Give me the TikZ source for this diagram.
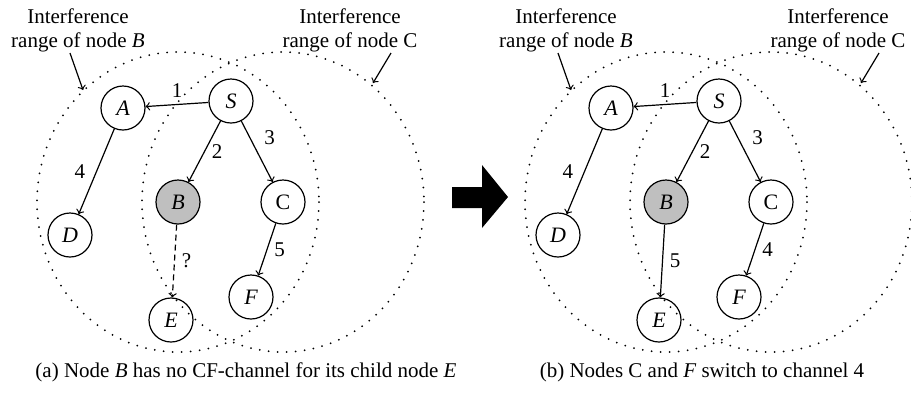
\documentclass[tikz,border=0pt]{standalone}
\usepackage{fontspec}
\setmainfont{Liberation Serif}

\begin{document}
\begin{tikzpicture}[x=0.5pt, y=-0.5pt, font=\fontsize{10.5}{12}\selectfont,
    vertex/.style={circle, draw, semithick, minimum size=22pt, inner sep=0pt, font=\fontsize{11}{13}\selectfont\itshape},
    reach/.style={line width=1pt, line cap=round, dash pattern=on 0pt off 4.5pt},
    arr/.style={semithick, ->},
    caption/.style={align=center, inner sep=1pt}
]
\useasboundingbox (0,0) rectangle (911,393);

% both panels share the same tree
\foreach \p/\dx in {a/0, b/488} {
  \begin{scope}[shift={(\dx,0)}]
    \draw[reach] (178,202) ellipse [x radius=141, y radius=150];
    \draw[reach] (283,202) ellipse [x radius=141, y radius=150];

    \node[vertex] (\p-S) at (231,101) {S};
    \node[vertex] (\p-A) at (123,108) {A};
    \node[vertex, fill=black!25] (\p-B) at (178,202) {B};
    \node[vertex] (\p-C) at (283,202) {\upshape C};
    \node[vertex] (\p-D) at (70,235) {D};
    \node[vertex] (\p-E) at (171,320) {E};
    \node[vertex] (\p-F) at (251,297) {F};

    \node[caption] (\p-rangeB) at (78,30) {Interference\\range of node \textit{B}};
    \node[caption] (\p-rangeC) at (350,30) {Interference\\range of node C};
    \coordinate (\p-tailB) at (70,53);
    \coordinate (\p-tipB) at (83,90);
    \coordinate (\p-tailC) at (391,53);
    \coordinate (\p-tipC) at (373,83);
    \draw[arr] (\p-tailB) -- (\p-tipB);
    \draw[arr] (\p-tailC) -- (\p-tipC);

    \draw[arr] (\p-S) -- node[above] {1} (\p-A);
    \draw[arr] (\p-S) -- node[right] {2} (\p-B);
    \draw[arr] (\p-S) -- node[above right] {3} (\p-C);
    \draw[arr] (\p-A) -- node[left=2pt] {4} (\p-D);
  \end{scope}
}

% (a) before switching
\draw[arr] (a-C) -- node[right] {5} (a-F);
\draw[arr, dash pattern=on 3pt off 2pt] (a-B) -- node[right] {?} (a-E);
\node (capA) at (246,372) {(a) Node \textit{B} has no CF-channel for its child node \textit{E}};

% (b) after switching
\draw[arr] (b-B) -- node[right] {5} (b-E);
\draw[arr] (b-C) -- node[right] {4} (b-F);
\node (capB) at (702,372) {(b) Nodes C and \textit{F} switch to channel 4};

% big arrow between the panels
\fill (452,187) -- (482,187) -- (482,165) -- (508,197) -- (482,228) -- (482,208) -- (452,208) -- cycle;

\end{tikzpicture}
\end{document}
